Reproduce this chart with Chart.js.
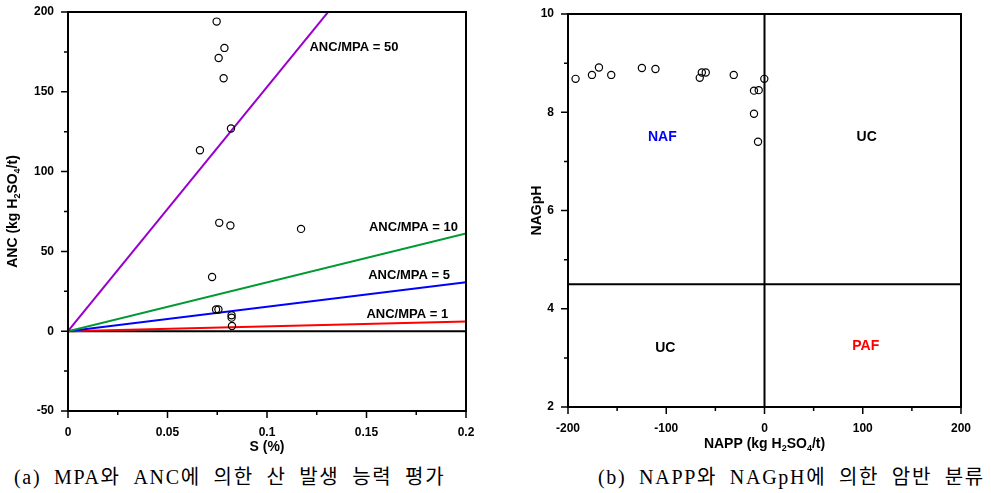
<!DOCTYPE html>
<html>
<head>
<meta charset="utf-8">
<script src="https://cdn.jsdelivr.net/npm/chart.js@4.4.1/dist/chart.umd.min.js"></script>
<style>
  body{margin:0;background:#fff;width:991px;height:493px;position:relative;overflow:hidden;}
  #chartA{position:absolute;left:0;top:0;}
  #chartB{position:absolute;left:505px;top:0;}
  .cap{position:absolute;top:465px;font-family:'Liberation Serif','Noto Sans CJK KR',serif;font-size:20px;line-height:24px;white-space:nowrap;color:#000;letter-spacing:1.7px;word-spacing:6px;}
</style>
</head>
<body>
<canvas id="chartA" width="495" height="460"></canvas>
<canvas id="chartB" width="486" height="460"></canvas>
<div class="cap" style="left:14px">(a) MPA와 ANC에 의한 산 발생 능력 평가</div>
<div class="cap" style="left:598px">(b) NAPP와 NAGpH에 의한 암반 분류</div>
<script>
// (a) S (%) vs ANC
const sPct = [0.0747,0.0786,0.0757,0.0782,0.0819,0.0663,0.0760,0.0816,0.1171,0.0724,0.0744,0.0756,0.0822,0.0822,0.0824];
const anc  = [194.0,177.5,171.2,158.5,127.0,113.4,67.9,66.2,64.1,34.0,13.6,13.6,10.0,8.5,3.3];
// ANC/MPA reference lines (start at origin, end points)
const ratioNames  = ['ANC/MPA = 50','ANC/MPA = 10','ANC/MPA = 5','ANC/MPA = 1'];
const ratioColors = ['#9900cc','#009933','#0000ff','#ff0000'];
const ratioEndS   = [0.2,0.2,0.2,0.2];
const ratioEndAnc = [306,61.2,30.6,6.1];
const ratioLabelS   = [0.1437,0.1736,0.1714,0.1705];
const ratioLabelAnc = [177.7,65.2,35.1,10.7];
const xTicksA = [0,0.05,0.1,0.15,0.2];
const yTicksA = [-50,0,50,100,150,200];

// (b) NAPP vs NAGpH
const napp  = [-192.3,-175.6,-168.5,-156.0,-124.8,-111.0,-65.9,-63.8,-59.8,-31.3,-0.2,-10.7,-5.9,-10.7,-6.6];
const nagph = [8.68,8.76,8.91,8.76,8.90,8.88,8.70,8.81,8.81,8.76,8.68,8.44,8.45,7.97,7.40];
const zoneNames  = ['NAF','UC','UC','PAF'];
const zoneColors = ['#0000ff','#000000','#000000','#ff0000'];
const zoneX = [-104,104,-101,103];
const zoneY = [7.5,7.5,3.2,3.23];
const nagphLimit = 4.5;
const xTicksB = [-200,-100,0,100,200];
const yTicksB = [2,4,6,8,10];

const FONT = 'Arial, "Liberation Sans", sans-serif';

function richText(ctx, parts, cx, cy, rot, size){
  ctx.save();
  ctx.translate(cx, cy);
  if(rot) ctx.rotate(-Math.PI/2);
  const big = 'bold '+size+'px '+FONT, small = 'bold '+Math.round(size*0.62)+'px '+FONT;
  let w = 0;
  parts.forEach(p=>{ ctx.font = p[1]?small:big; w += ctx.measureText(p[0]).width; });
  let x = -w/2;
  ctx.textBaseline='middle'; ctx.textAlign='left'; ctx.fillStyle='#000';
  parts.forEach(p=>{
    ctx.font = p[1]?small:big;
    ctx.fillText(p[0], x, p[1]? size*0.32 : 0);
    x += ctx.measureText(p[0]).width;
  });
  ctx.restore();
}

// box, ticks (major + minor), labels and axis titles
const frame = {
  id:'frame',
  afterDatasetsDraw(chart, args, opts){
    const {ctx, chartArea:a, scales:{x,y}} = chart;
    ctx.save();
    ctx.strokeStyle='#000';
    ctx.lineWidth=1.5;
    ctx.beginPath();
    const xt = x.ticks.map(t=>t.value), yt = y.ticks.map(t=>t.value);
    xt.forEach((v,i)=>{
      const p = x.getPixelForValue(v);
      ctx.moveTo(p,a.bottom); ctx.lineTo(p,a.bottom+7);
      if(i<xt.length-1){ const m = x.getPixelForValue((v+xt[i+1])/2); ctx.moveTo(m,a.bottom); ctx.lineTo(m,a.bottom+4); }
    });
    yt.forEach((v,i)=>{
      const p = y.getPixelForValue(v);
      ctx.moveTo(a.left,p); ctx.lineTo(a.left-7,p);
      if(i<yt.length-1){ const m = y.getPixelForValue((v+yt[i+1])/2); ctx.moveTo(a.left,m); ctx.lineTo(a.left-4,m); }
    });
    ctx.stroke();
    ctx.lineWidth=2;
    ctx.strokeRect(a.left,a.top,a.right-a.left,a.bottom-a.top);

    (opts.notes||[]).forEach(n=>{
      ctx.font='bold '+n.size+'px '+FONT;
      ctx.fillStyle=n.color; ctx.textAlign='center'; ctx.textBaseline='middle';
      ctx.fillText(n.text, x.getPixelForValue(n.x), y.getPixelForValue(n.y));
    });
    richText(ctx, opts.xTitle, (a.left+a.right)/2, opts.xTitleY, false, 14);
    richText(ctx, opts.yTitle, opts.yTitleX, (a.top+a.bottom)/2, true, 14);
    ctx.restore();
  }
};

function axis(min, max, ticks, fix, fmt){
  return {
    type:'linear', min, max,
    afterBuildTicks: s=>{ s.ticks = ticks.map(v=>({value:v})); },
    afterFit: s=>{ fix(s); s.paddingTop = 0; s.paddingBottom = 0; s.paddingLeft = 0; s.paddingRight = 0; },
    grid:{display:false, drawTicks:false},
    border:{display:false},
    ticks:{color:'#000', padding:14, font:{family:FONT, size:12, weight:'bold'}, callback: fmt || (v=>String(v))}
  };
}

function pointSet(xs, ys){
  return {
    data: xs.map((v,i)=>({x:v, y:ys[i]})),
    showLine:false, pointStyle:'circle', pointRadius:3.6,
    pointBackgroundColor:'rgba(0,0,0,0)', pointBorderColor:'#000', pointBorderWidth:1.2
  };
}
function lineSet(pts, color){
  return {data:pts, showLine:true, borderColor:color, borderWidth:2, pointRadius:0};
}

const base = {
  responsive:false, animation:false,
  plugins:{legend:{display:false}, tooltip:{enabled:false}}
};

new Chart(document.getElementById('chartA'), {
  type:'scatter',
  data:{datasets:[
    pointSet(sPct, anc),
    ...ratioNames.map((n,i)=>lineSet([{x:0,y:0},{x:ratioEndS[i],y:ratioEndAnc[i]}], ratioColors[i])),
    lineSet([{x:0,y:0},{x:0.2,y:0}], '#000')
  ]},
  options:{...base,
    layout:{padding:{top:12, right:29, left:0, bottom:0}},
    scales:{
      x: axis(0, 0.2, xTicksA, s=>{ s.height = 49; }),
      y: axis(-50, 200, yTicksA, s=>{ s.width = 68; })
    },
    plugins:{...base.plugins, frame:{
      notes: ratioNames.map((n,i)=>({text:n, x:ratioLabelS[i], y:ratioLabelAnc[i], color:'#000', size:13})),
      xTitle:[['S (%)',0]], xTitleY:447,
      yTitle:[['ANC (kg H',0],['2',1],['SO',0],['4',1],['/t)',0]], yTitleX:13
    }}
  },
  plugins:[frame]
});

new Chart(document.getElementById('chartB'), {
  type:'scatter',
  data:{datasets:[
    pointSet(napp, nagph),
    lineSet([{x:0,y:2},{x:0,y:10}], '#000'),
    lineSet([{x:-200,y:nagphLimit},{x:200,y:nagphLimit}], '#000')
  ]},
  options:{...base,
    layout:{padding:{top:14, right:30, left:0, bottom:0}},
    scales:{
      x: axis(-200, 200, xTicksB, s=>{ s.height = 53; }),
      y: axis(2, 10, yTicksB, s=>{ s.width = 63; })
    },
    plugins:{...base.plugins, frame:{
      notes: zoneNames.map((n,i)=>({text:n, x:zoneX[i], y:zoneY[i], color:zoneColors[i], size:14})),
      xTitle:[['NAPP (kg H',0],['2',1],['SO',0],['4',1],['/t)',0]], xTitleY:444,
      yTitle:[['NAGpH',0]], yTitleX:32
    }}
  },
  plugins:[frame]
});
</script>
</body>
</html>
